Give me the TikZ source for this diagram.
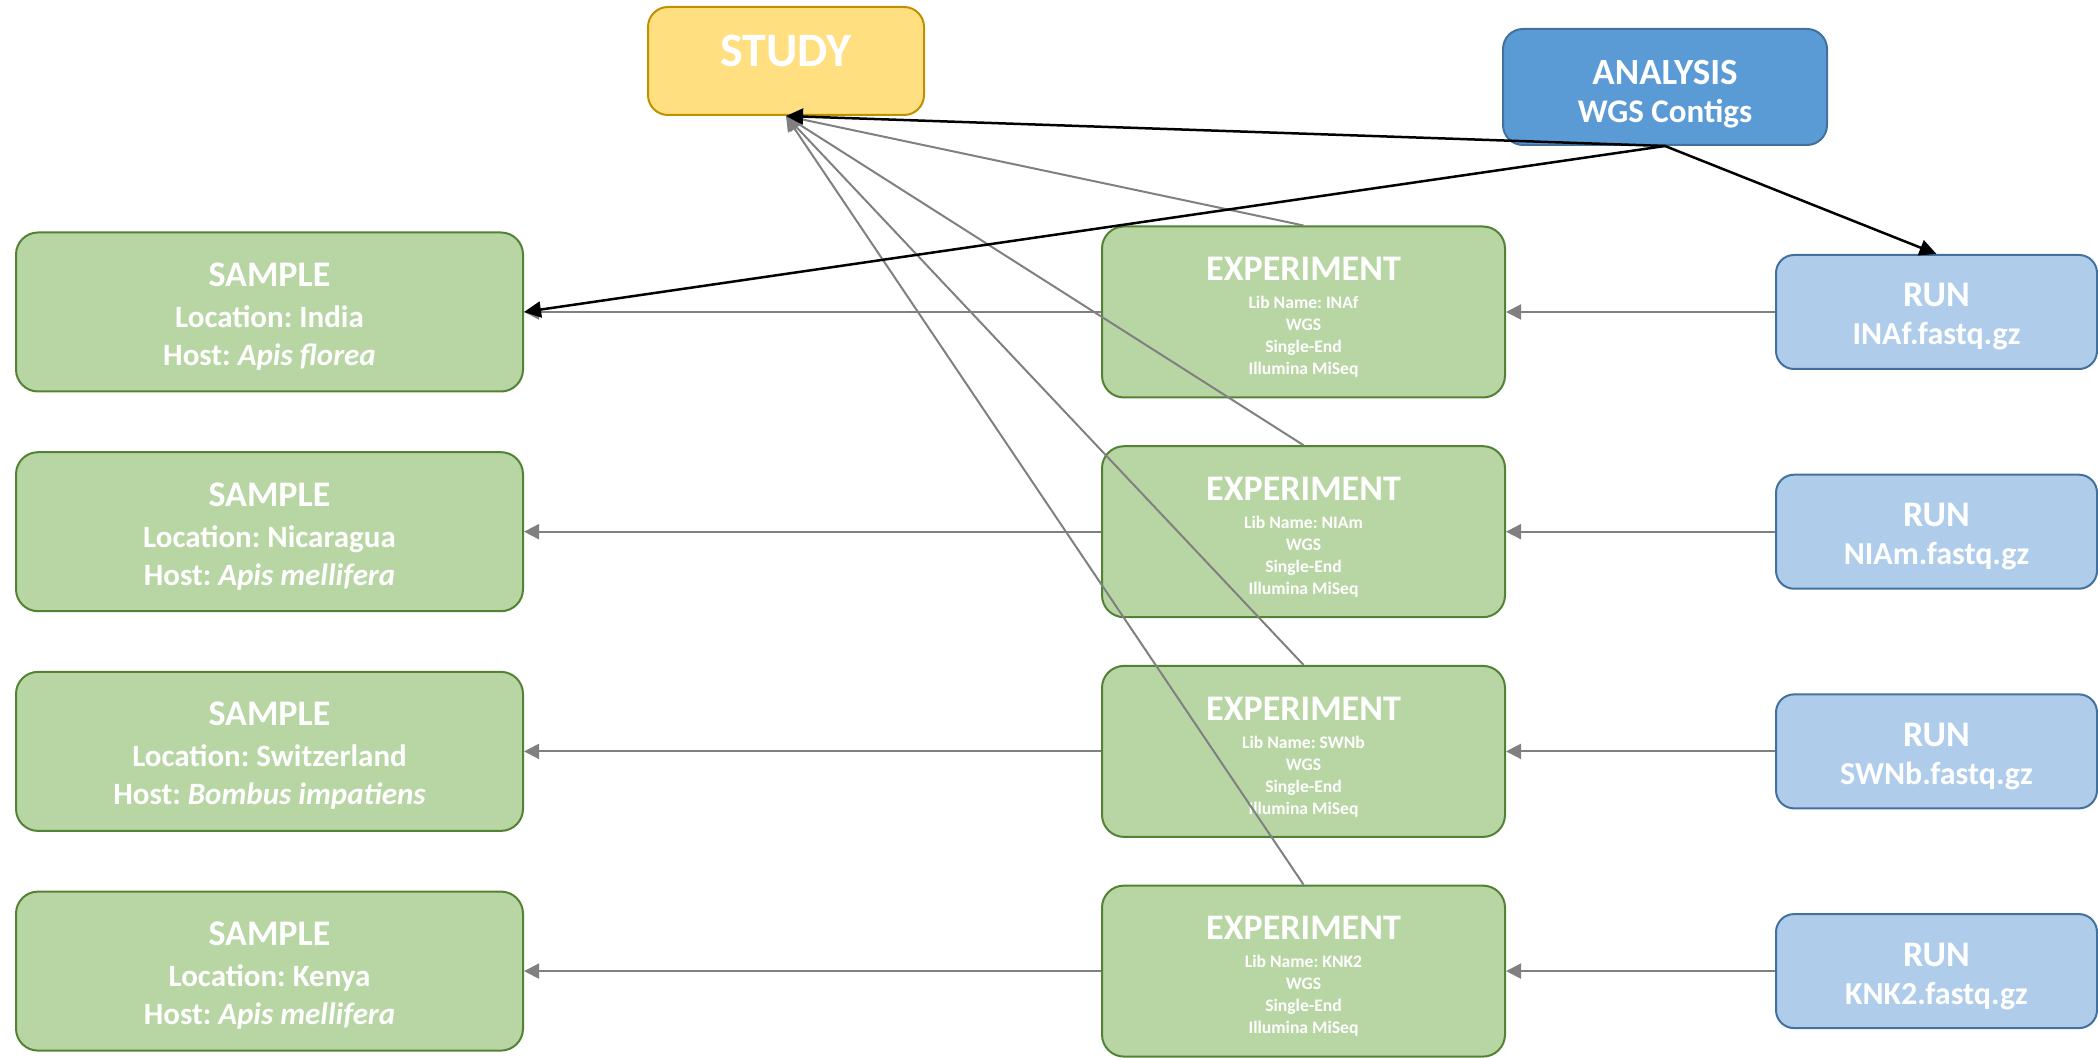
\documentclass[tikz,border=0pt]{standalone}
\usepackage{fontspec}
\setmainfont{Carlito}
\usetikzlibrary{arrows.meta}
\frenchspacing

\definecolor{greenfill}{HTML}{B8D6A4}
\definecolor{greenedge}{HTML}{548235}
\definecolor{goldfill}{HTML}{FFDF80}
\definecolor{goldedge}{HTML}{BF9000}
\definecolor{bluefill}{HTML}{5B9BD5}
\definecolor{blueedge}{HTML}{41719C}
\definecolor{lightbluefill}{HTML}{AFCDEB}
\definecolor{linkgray}{HTML}{808080}

% centred lines with a fixed baseline distance:
% #1 baseline distance, #2 space above the first line, #3 rows ending in \cr
\newcommand\textstack[3]{%
  \vbox{\baselineskip=#1\lineskiplimit=-\maxdimen\lineskip=0pt
    \halign{\hfil##\hfil\cr\noalign{\vskip#2}#3\crcr}}}

\newcommand\stitle{\fontsize{18}{18}\selectfont}
\newcommand\sline{\fontsize{15.5}{18}\selectfont}
\newcommand\etitle{\fontsize{18}{18}\selectfont}
\newcommand\esmall{\fontsize{8.8}{11}\selectfont}
\newcommand\rtitle{\fontsize{18}{18}\selectfont}
\newcommand\rsub{\fontsize{16}{18}\selectfont}

% text blocks of the three kinds of record box
\newcommand\sampletext[2]{\textstack{19pt}{4.5pt}{%
  \stitle SAMPLE\cr\noalign{\vskip1.5pt}%
  \sline Location: #1\cr
  \sline Host: \textit{#2}}}
\newcommand\exptext[1]{\textstack{11pt}{5.5pt}{%
  \etitle EXPERIMENT\cr\noalign{\vskip3pt}%
  \esmall Lib Name: #1\cr
  \esmall WGS\cr
  \esmall Single-End\cr
  \esmall Illumina MiSeq}}
\newcommand\runtext[1]{\textstack{19pt}{5pt}{%
  \rtitle RUN\cr
  \rsub #1.fastq.gz}}

\begin{document}
\begin{tikzpicture}[x=0.5pt,y=-0.5pt,
  box/.style={rounded corners=11pt, line width=1pt, inner sep=0pt,
    text=white, font=\bfseries},
  samplebox/.style={box, fill=greenfill, draw=greenedge,
    minimum width=253.5pt, minimum height=79.5pt},
  expbox/.style={box, fill=greenfill, draw=greenedge,
    minimum width=201.5pt, minimum height=85.5pt},
  runbox/.style={box, fill=lightbluefill, draw=blueedge, rounded corners=9pt,
    minimum width=160.5pt, minimum height=57pt},
  studybox/.style={box, fill=goldfill, draw=goldedge, rounded corners=10pt,
    minimum width=138pt, minimum height=54pt},
  analysisbox/.style={box, fill=bluefill, draw=blueedge, rounded corners=10pt,
    minimum width=162pt, minimum height=58pt},
  link/.style={draw=linkgray, line width=1pt, -{Triangle[length=7.5pt,width=7.5pt]}},
  mainlink/.style={draw=black, line width=1.25pt, -{Triangle[length=8.5pt,width=8pt]}},
]
\useasboundingbox (0,0) rectangle (2098,1058);

% top level records
\node[studybox] (study) at (786,61) {};
\node[text=white, font=\bfseries\fontsize{24}{26}\selectfont, inner sep=0pt] (study-title) at (786,51) {STUDY};
\node[analysisbox] (analysis) at (1665,87)
  {\textstack{19pt}{7pt}{%
    \fontsize{18.5}{19}\selectfont ANALYSIS\cr
    \fontsize{16.5}{19}\selectfont WGS Contigs}};

% samples
\node[samplebox] (sample1) at (269.5,312.0) {\sampletext{India}{Apis florea}};
\node[samplebox] (sample2) at (269.5,531.7) {\sampletext{Nicaragua}{Apis mellifera}};
\node[samplebox] (sample3) at (269.5,751.4) {\sampletext{Switzerland}{Bombus impatiens}};
\node[samplebox] (sample4) at (269.5,971.1) {\sampletext{Kenya}{Apis mellifera}};

% experiments
\node[expbox] (exp1) at (1303.5,312.0) {\exptext{INAf}};
\node[expbox] (exp2) at (1303.5,531.7) {\exptext{NIAm}};
\node[expbox] (exp3) at (1303.5,751.4) {\exptext{SWNb}};
\node[expbox] (exp4) at (1303.5,971.1) {\exptext{KNK2}};

% runs
\node[runbox] (run1) at (1936.5,312.0) {\runtext{INAf}};
\node[runbox] (run2) at (1936.5,531.7) {\runtext{NIAm}};
\node[runbox] (run3) at (1936.5,751.4) {\runtext{SWNb}};
\node[runbox] (run4) at (1936.5,971.1) {\runtext{KNK2}};

% references between records
\foreach \i in {1,...,4} {
  \draw[link] (exp\i.west) -- (sample\i.east);
  \draw[link] (run\i.west) -- (exp\i.east);
  \draw[link] (exp\i.north) -- (study.south);
}

% analysis references
\draw[mainlink] (analysis.south) -- (study.south);
\draw[mainlink] (analysis.south) -- (sample1.east);
\draw[mainlink] (analysis.south) -- (run1.north);
\end{tikzpicture}
\end{document}
